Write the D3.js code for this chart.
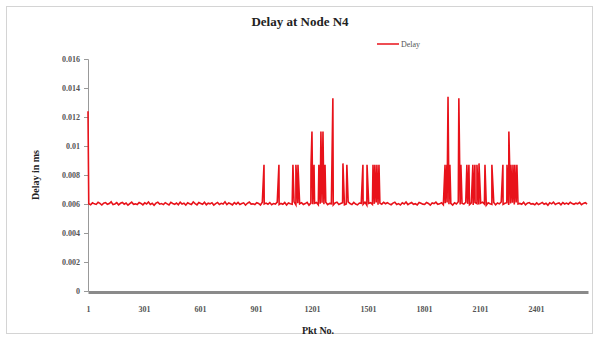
<!DOCTYPE html>
<html><head><meta charset="utf-8">
<script src="https://cdn.jsdelivr.net/npm/d3@7"></script>
<style>
html,body{margin:0;padding:0;background:#fff;}
svg{display:block;}
text{font-family:"Liberation Serif","Times New Roman",serif;}
</style></head>
<body>
<svg id="chart" width="598" height="339"></svg>
<script>
// ---- data ----
const title = "Delay at Node N4";
const seriesName = "Delay";
const xTitle = "Pkt No.";
const yTitle = "Delay in ms";
const xTickValues = [1, 301, 601, 901, 1201, 1501, 1801, 2101, 2401];
const yTickValues = [0, 0.002, 0.004, 0.006, 0.008, 0.01, 0.012, 0.014, 0.016];
const totalPackets = 2680;
// baseline samples, one every 10 packets starting at packet 5
const basePktStart = 5;
const basePktStep = 10;
const baseDelay = [
0.00602,0.00595,0.00608,0.00601,0.00597,0.00612,0.00604,0.00593,0.00606,0.00610,0.00598,0.00603,0.00615,0.00596,0.00600,0.00609,0.00594,0.00605,0.00611,0.00599,
0.00607,0.00592,0.00603,0.00613,0.00598,0.00601,0.00596,0.00610,0.00604,0.00594,0.00608,0.00600,0.00614,0.00597,0.00605,0.00591,0.00606,0.00612,0.00599,0.00603,
0.00596,0.00609,0.00601,0.00593,0.00611,0.00604,0.00598,0.00607,0.00595,0.00613,0.00600,0.00605,0.00592,0.00608,0.00602,0.00597,0.00614,0.00603,0.00594,0.00610,
0.00604,0.00598,0.00612,0.00595,0.00606,0.00601,0.00609,0.00593,0.00603,0.00611,0.00597,0.00605,0.00600,0.00615,0.00596,0.00607,0.00602,0.00594,0.00610,0.00599,
0.00611,0.00597,0.00603,0.00608,0.00592,0.00605,0.00614,0.00599,0.00601,0.00596,0.00609,0.00604,0.00593,0.00612,0.00600,0.00606,0.00598,0.00610,0.00595,0.00603,
0.00600,0.00613,0.00596,0.00604,0.00598,0.00610,0.00593,0.00607,0.00602,0.00599,0.00615,0.00594,0.00605,0.00601,0.00609,0.00597,0.00603,0.00611,0.00592,0.00606,
0.00598,0.00605,0.00610,0.00594,0.00602,0.00608,0.00599,0.00612,0.00596,0.00604,0.00601,0.00593,0.00607,0.00613,0.00597,0.00603,0.00609,0.00595,0.00600,0.00614,
0.00603,0.00596,0.00611,0.00600,0.00594,0.00607,0.00605,0.00598,0.00613,0.00592,0.00604,0.00609,0.00597,0.00601,0.00610,0.00595,0.00606,0.00599,0.00612,0.00602,
0.00609,0.00601,0.00595,0.00606,0.00612,0.00597,0.00603,0.00593,0.00608,0.00600,0.00614,0.00596,0.00604,0.00610,0.00598,0.00602,0.00594,0.00611,0.00605,0.00599,
0.00597,0.00610,0.00604,0.00592,0.00607,0.00603,0.00613,0.00598,0.00601,0.00609,0.00595,0.00606,0.00611,0.00599,0.00604,0.00593,0.00608,0.00600,0.00615,0.00596,
0.00605,0.00599,0.00612,0.00601,0.00596,0.00608,0.00594,0.00610,0.00603,0.00597,0.00606,0.00613,0.00600,0.00592,0.00609,0.00602,0.00598,0.00611,0.00595,0.00607,
0.00601,0.00614,0.00597,0.00605,0.00609,0.00593,0.00603,0.00608,0.00596,0.00611,0.00600,0.00604,0.00598,0.00612,0.00594,0.00606,0.00610,0.00599,0.00602,0.00595,
0.00608,0.00596,0.00603,0.00611,0.00598,0.00605,0.00592,0.00609,0.00601,0.00613,0.00597,0.00604,0.00607,0.00594,0.00610,0.00600,0.00606,0.00599,0.00612,0.00603,
0.00598,0.00606,0.00601,0.00611,0.00595,0.00604,0.00609,0.00600
];
// isolated high-delay packets
const spikePkt = [1, 944, 1024, 1099, 1115, 1126, 1196, 1201, 1212, 1238, 1249, 1260, 1271, 1313, 1367, 1388,
  1474, 1496, 1528, 1538, 1549, 1560, 1914, 1924, 1930, 1940, 1988, 1999, 2031, 2042, 2063, 2074, 2085, 2096,
  2128, 2165, 2224, 2246, 2256, 2267, 2278, 2288, 2299];
const spikeDelay = [0.0124, 0.0087, 0.0087, 0.0087, 0.0087, 0.0087, 0.0087, 0.0110, 0.0087, 0.0087, 0.0110, 0.0110, 0.0087, 0.0133, 0.0088, 0.0087,
  0.0087, 0.0087, 0.0087, 0.0087, 0.0087, 0.0087, 0.0087, 0.0087, 0.0134, 0.0087, 0.0133, 0.0087, 0.0087, 0.0087, 0.0087, 0.0087, 0.0087, 0.0088,
  0.0087, 0.0087, 0.0087, 0.0087, 0.0110, 0.0087, 0.0087, 0.0087, 0.0087];

// ---- build series ----
const series = baseDelay.map((d, i) => ({pkt: basePktStart + i * basePktStep, v: d}))
  .concat(spikePkt.map((p, i) => ({pkt: p, v: spikeDelay[i]})))
  .sort((a, b) => a.pkt - b.pkt);

const svg = d3.select("#chart");
const W = 598, H = 339;
const plot = {left: 88, right: 588, top: 59, bottom: 291};

// frame
svg.append("rect").attr("x", 6.5).attr("y", 6.5).attr("width", W - 12).attr("height", H - 12)
  .attr("fill", "#fff").attr("stroke", "#d4d4d4").attr("stroke-width", 1);

const x = d3.scaleLinear().domain([1, totalPackets]).range([plot.left, plot.right]);
const y = d3.scaleLinear().domain([0, 0.016]).range([plot.bottom, plot.top]);

// y axis
const yAxis = d3.axisLeft(y).tickValues(yTickValues).tickSize(4).tickPadding(4)
  .tickFormat(d => d === 0 ? "0" : String(+d.toFixed(3)));
const gy = svg.append("g").attr("transform", `translate(${plot.left},0)`).call(yAxis);
gy.select(".domain").attr("stroke", "#999");
gy.selectAll(".tick line").attr("stroke", "#999");
gy.selectAll(".tick text").attr("fill", "#555").attr("font-size", 8).attr("font-weight", "bold")
  .style("font-family", "'Liberation Serif', serif");

// line
const line = d3.line().x(d => x(d.pkt)).y(d => y(d.v));
svg.append("path").datum(series).attr("d", line).attr("fill", "none")
  .attr("stroke", "#e8121a").attr("stroke-width", 1.6).attr("stroke-linejoin", "miter");

// x axis
const xAxis = d3.axisBottom(x).tickValues(xTickValues).tickSize(0).tickPadding(14)
  .tickFormat(d => String(d));
const gx = svg.append("g").attr("transform", `translate(0,${plot.bottom + 1})`).call(xAxis);
gx.select(".domain").attr("stroke", "#8a8a8a").attr("stroke-width", 3);
gx.selectAll(".tick text").attr("fill", "#555").attr("font-size", 8).attr("font-weight", "bold")
  .style("font-family", "'Liberation Serif', serif");

// titles
svg.append("text").attr("x", 300).attr("y", 26).attr("text-anchor", "middle")
  .attr("font-size", 13).attr("font-weight", "bold").attr("fill", "#222").text(title);
svg.append("text").attr("x", 318).attr("y", 334).attr("text-anchor", "middle")
  .attr("font-size", 10).attr("font-weight", "bold").attr("fill", "#222").text(xTitle);
svg.append("text").attr("transform", "translate(39,175) rotate(-90)").attr("text-anchor", "middle")
  .attr("font-size", 10).attr("font-weight", "bold").attr("fill", "#222").text(yTitle);

// legend
const lg = svg.append("g").attr("transform", "translate(377,44)");
lg.append("line").attr("x1", 0).attr("x2", 22).attr("y1", 0).attr("y2", 0)
  .attr("stroke", "#e8121a").attr("stroke-width", 1.5);
lg.append("text").attr("x", 24).attr("y", 3).attr("font-size", 8).attr("fill", "#555").text(seriesName);
</script>
</body></html>
